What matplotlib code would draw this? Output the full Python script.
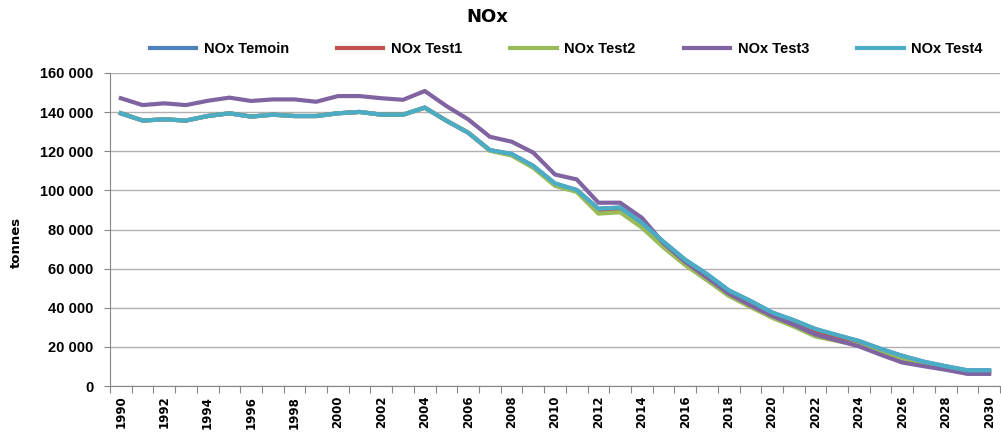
import matplotlib
matplotlib.use("Agg")
import matplotlib.pyplot as plt
import numpy as np

# data (tonnes of NOx per year)
years = list(range(1990, 2031))

temoin = [139400, 135700, 136300, 135700, 138000, 139400, 137700, 138700, 138000, 138000,
          139400, 140100, 138700, 138700, 142300, 135600, 129500, 120600, 118600, 112500,
          103500, 100200, 90600, 91200, 83400, 73700, 64500, 57200, 48900, 43500,
          37600, 33600, 29100, 26000, 23000, 19000, 15400, 12400, 10100, 8000, 8000]

test1 = [139400, 135700, 136300, 135700, 138000, 139400, 137700, 138700, 138000, 138000,
         139400, 140100, 138700, 138700, 142300, 135600, 129500, 120400, 118200, 112000,
         103000, 99800, 89000, 89500, 82300, 72300, 63800, 56000, 47800, 42300,
         36600, 32200, 27400, 24200, 21500, 17500, 14000, 11500, 9400, 7300, 7300]

test2 = [139400, 135700, 136300, 135700, 138000, 139400, 137700, 138700, 138000, 138000,
         139400, 140100, 138700, 138700, 142300, 135600, 129500, 120300, 117800, 111500,
         102300, 99200, 88100, 88800, 81000, 70800, 61800, 54100, 46100, 40400,
         34900, 30400, 25300, 23000, 20800, 17000, 13600, 11400, 9300, 7100, 7100]

test3 = [147100, 143600, 144500, 143600, 145800, 147400, 145700, 146500, 146500, 145300,
         148200, 148200, 147100, 146300, 150800, 143100, 136300, 127400, 124900, 119300,
         108100, 105600, 93700, 93700, 86000, 73000, 63500, 55500, 47300, 41300,
         35900, 31300, 26300, 23300, 20300, 16000, 12000, 10100, 8300, 6200, 6200]

test4 = [139400, 135700, 136300, 135700, 138000, 139400, 137700, 138700, 138000, 138000,
         139400, 140100, 138700, 138700, 142300, 135600, 129500, 120600, 118600, 112500,
         103500, 100200, 90600, 91200, 83400, 73700, 64500, 57200, 48900, 43500,
         37600, 33600, 29100, 26000, 23000, 19000, 15400, 12400, 10100, 8000, 8000]

series = [("NOx Temoin", temoin, "#4F81BD"),
          ("NOx Test1", test1, "#C0504D"),
          ("NOx Test2", test2, "#9BBB59"),
          ("NOx Test3", test3, "#8064A2"),
          ("NOx Test4", test4, "#4BACC6")]

narrow = ["Liberation Sans", "DejaVu Sans"]

fig = plt.figure(figsize=(10.01, 4.41), dpi=100)
ax = fig.add_axes([110 / 1001, 1 - 386 / 441, 890 / 1001, 313 / 441])

x = np.arange(len(years))
for name, vals, col in series:
    ax.plot(x, vals, color=col, lw=3.0, label=name, solid_joinstyle="round")

ax.set_ylim(0, 160000)
ax.set_xlim(-0.5, len(years) - 0.5)

ax.set_yticks(np.arange(0, 160001, 20000))
ax.set_yticklabels([f"{v:,}".replace(",", " ") for v in range(0, 160001, 20000)],
                   fontweight="bold", fontsize=10.5, family=narrow)
ax.yaxis.grid(True, color="#b0b0b0", lw=1)
ax.set_axisbelow(True)

# category boundaries as major ticks, labels every second year
ax.set_xticks(np.arange(-0.5, len(years), 1))
ax.set_xticklabels([])
ax.set_xticks(x[::2], minor=True)
ax.set_xticklabels([str(y) for y in years[::2]], minor=True, rotation=90,
                   fontweight="bold", fontsize=8.5, family="DejaVu Sans")
ax.tick_params(axis="x", which="major", length=5, color="#868686", direction="out")
ax.tick_params(axis="x", which="minor", length=0, pad=7)
ax.tick_params(axis="y", length=4, color="#868686", pad=8)

for s in ["top", "right"]:
    ax.spines[s].set_visible(False)
for s in ["left", "bottom"]:
    ax.spines[s].set_color("#868686")

fig.text(487 / 1001, 1 - 17 / 441, "NOx", ha="center", va="center",
         fontweight="bold", fontsize=13, family="DejaVu Sans")
fig.text(16 / 1001, 1 - 242 / 441, "tonnes", rotation=90, ha="center", va="center",
         fontweight="bold", fontsize=9.5, family="DejaVu Sans")

fig.legend(loc="center", bbox_to_anchor=(566 / 1001, 1 - 49 / 441), ncol=5,
           frameon=False, handlelength=3.2, handletextpad=0.5, columnspacing=3.3,
           prop={"family": narrow, "weight": "bold", "size": 10.5})

fig.savefig("out.png", dpi=100)
